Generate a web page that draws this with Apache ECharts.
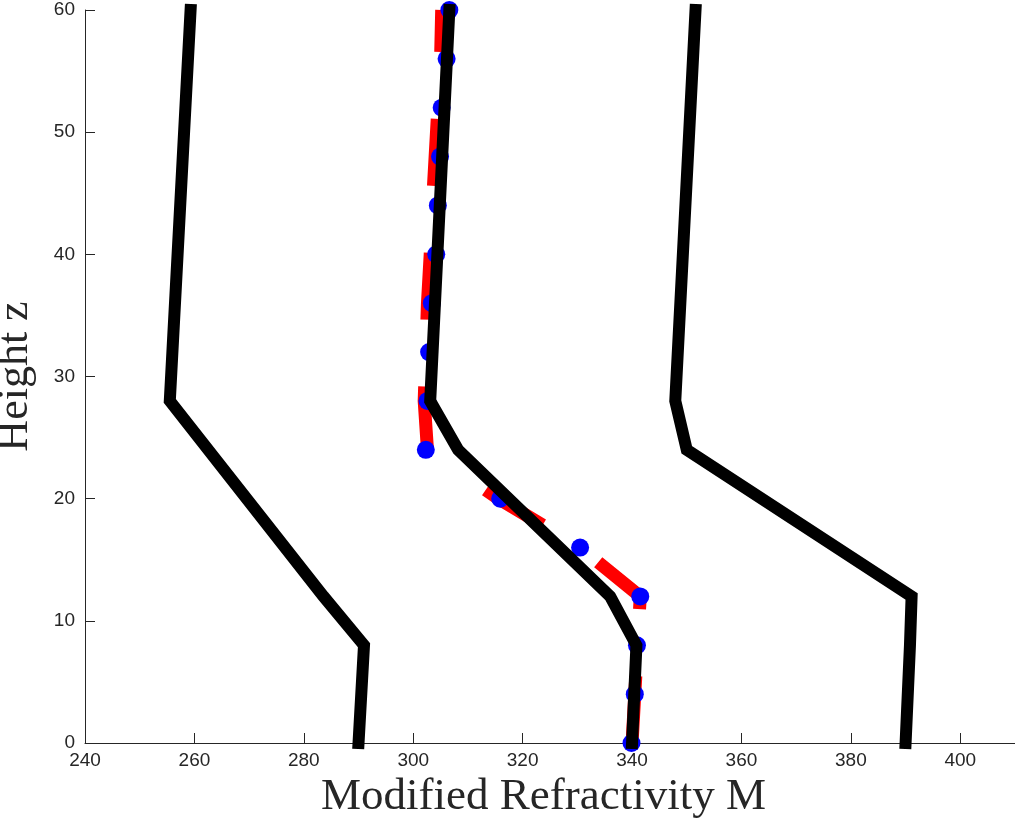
<!DOCTYPE html>
<html>
<head>
<meta charset="utf-8">
<title>Modified Refractivity</title>
<script src="https://cdn.jsdelivr.net/npm/echarts@6/dist/echarts.min.js"></script>
<style>
  html, body { margin: 0; padding: 0; background: #fff; }
  #chart { width: 1015px; height: 823px; }
</style>
</head>
<body>
<div id="chart"></div>
<script>
// measured profile (blue dots)
const measZ = [0, 4, 8, 12, 16, 20, 24, 28, 32, 36, 40, 44, 48, 52, 56, 60];
const measM = [339.9, 340.5, 340.9, 341.5, 330.5, 315.9, 302.3, 302.6, 302.9, 303.4, 304.2, 304.5, 304.9, 305.2, 306.1, 306.6];

// red dashed profile, sits a little left of the dots up top
const redZ = [0, 4, 8, 12, 16, 20, 24, 28, 32, 36, 40, 44, 48, 52, 56, 60];
const redM = [340.0, 340.5, 341.0, 341.5, 330.5, 315.6, 302.6, 302.0, 302.3, 302.6, 303.1, 303.5, 304.0, 304.5, 305.0, 305.2];

// black piecewise profiles
const leftZ = [0, 8, 12, 28, 60];
const leftM = [290, 291, 283.6, 255.5, 259.3];
const midZ = [0, 8, 12, 24, 28, 60];
const midM = [340, 340.8, 336, 308.2, 303.1, 306.6];
const rightZ = [0, 8, 12, 24, 28, 60];
const rightM = [390, 390.8, 391.1, 350, 347.9, 351.6];

const xTicks = [240, 260, 280, 300, 320, 340, 360, 380, 400];

const pairs = (ms, zs) => ms.map((m, i) => [m, zs[i]]);

const chart = echarts.init(document.getElementById('chart'), null, { renderer: 'canvas' });

const axisColor = '#262626';

const blackLine = (data) => ({
    type: 'line',
    data: data,
    showSymbol: false,
    clip: false,
    z: 5,
    lineStyle: { color: '#000', width: 12, cap: 'square', join: 'miter' }
});

const options = {
    animation: false,
    grid: { left: 85, right: 0, top: 10, bottom: 80, outerBoundsMode: 'none' },
    xAxis: {
        type: 'value',
        min: 240,
        max: 410,
        interval: 20,
        name: 'Modified Refractivity M',
        nameLocation: 'middle',
        nameGap: 32,
        nameTextStyle: { fontFamily: 'Liberation Serif', fontSize: 45, color: axisColor, padding: [0, 13, 0, 0] },
        axisLine: { show: true, onZero: false, lineStyle: { color: axisColor, width: 1 } },
        axisTick: { show: true, inside: true, length: 10, customValues: xTicks, lineStyle: { color: axisColor } },
        axisLabel: { margin: 8, customValues: xTicks, fontFamily: 'Liberation Sans', fontSize: 19, color: axisColor },
        splitLine: { show: false }
    },
    yAxis: {
        type: 'value',
        min: 0,
        max: 60,
        interval: 10,
        name: 'Height z',
        nameLocation: 'middle',
        nameGap: 48,
        nameTextStyle: { fontFamily: 'Liberation Serif', fontSize: 44, color: axisColor },
        axisLine: { show: true, onZero: false, lineStyle: { color: axisColor, width: 1 } },
        axisTick: { show: true, inside: true, length: 10, lineStyle: { color: axisColor } },
        axisLabel: { margin: 10, fontFamily: 'Liberation Sans', fontSize: 19, color: axisColor },
        splitLine: { show: false }
    },
    series: [
        {
            type: 'line',
            data: pairs(redM, redZ),
            showSymbol: false,
            z: 2,
            lineStyle: { color: '#ff0000', width: 13, type: [67, 67], cap: 'butt', join: 'miter' }
        },
        {
            type: 'scatter',
            data: pairs(measM, measZ),
            symbolSize: 18,
            z: 3,
            itemStyle: { color: '#0000ff', opacity: 1 }
        },
        blackLine(pairs(leftM, leftZ)),
        blackLine(pairs(midM, midZ)),
        blackLine(pairs(rightM, rightZ))
    ]
};

chart.setOption(options);
</script>
</body>
</html>
